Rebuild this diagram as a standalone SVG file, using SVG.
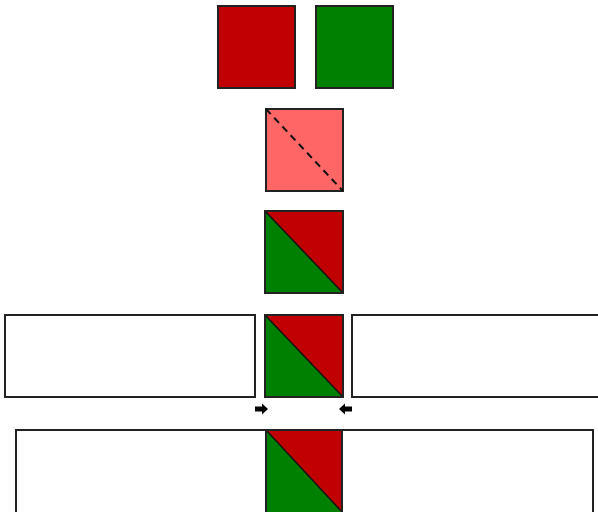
<svg xmlns="http://www.w3.org/2000/svg" width="598" height="512" viewBox="0 0 598 512">
<defs>
<style>
.box{stroke:#222;stroke-width:2;}
.red{fill:#C00000;}
.green{fill:#008000;}
.pink{fill:#FF6666;}
.white{fill:#fff;}
.diag{stroke:#111;stroke-width:1.5;fill:none;}
.dash{stroke:#111;stroke-width:2;stroke-dasharray:7,5;fill:none;}
.arrow{fill:#000;}
</style>
</defs>
<rect width="598" height="512" fill="#fff"/>
<g id="red-square"><rect class="box red" x="218" y="6" width="77" height="82"/></g>
<g id="green-square"><rect class="box green" x="316" y="6" width="77" height="82"/></g>
<g id="pink-square">
<rect class="box pink" x="266" y="109" width="77" height="82"/>
<line class="dash" x1="266" y1="109" x2="343" y2="191"/>
</g>
<g id="split-square">
<rect class="box red" x="265" y="211" width="78" height="82"/>
<polygon class="green" points="265,211 343,293 265,293"/>
<line class="diag" x1="265" y1="211" x2="343" y2="293"/>
<rect class="box" fill="none" x="265" y="211" width="78" height="82"/>
</g>
<g id="row4-left"><rect class="box white" x="5" y="315" width="250" height="82"/></g>
<g id="row4-square">
<rect class="box red" x="265" y="315" width="78" height="82"/>
<polygon class="green" points="265,315 343,397 265,397"/>
<line class="diag" x1="265" y1="315" x2="343" y2="397"/>
<rect class="box" fill="none" x="265" y="315" width="78" height="82"/>
</g>
<g id="row4-right"><rect class="box white" x="352" y="315" width="250" height="82"/></g>
<g id="connectors">
<polygon class="arrow" points="255,406.5 262,406.5 262,403.5 268,409 262,414.5 262,411.5 255,411.5"/>
<polygon class="arrow" points="352,406.5 345,406.5 345,403.5 339,409 345,414.5 345,411.5 352,411.5"/>
</g>
<g id="row5-left"><rect class="box white" x="16" y="430" width="250" height="90"/></g>
<g id="row5-right"><rect class="box white" x="342" y="430" width="251" height="90"/></g>
<g id="row5-square">
<rect class="box red" x="266" y="430" width="76" height="82"/>
<polygon class="green" points="266,430 342,512 266,512"/>
<line class="diag" x1="266" y1="430" x2="342" y2="512"/>
<rect class="box" fill="none" x="266" y="430" width="76" height="90"/>
</g>
</svg>
